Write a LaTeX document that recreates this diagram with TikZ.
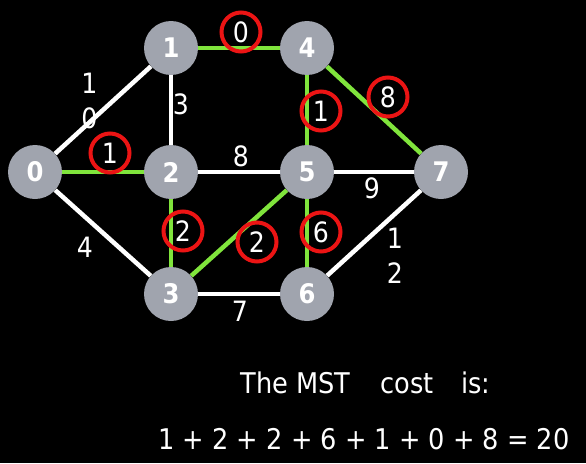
\documentclass[tikz,border=0pt]{standalone}
\usepackage{fontspec}
\setmainfont{DejaVu Sans Condensed}
\definecolor{mstgreen}{RGB}{128,228,60}
\definecolor{nodegray}{RGB}{160,164,174}
\definecolor{ringred}{RGB}{236,20,20}
\begin{document}
\begin{tikzpicture}[x=1pt,y=-1pt,
  vtx/.style={circle,fill=nodegray,minimum size=54pt,inner sep=0pt,text=white,font=\fontsize{27}{27}\selectfont\bfseries},
  wedge/.style={draw=white,line width=4.5pt},
  gedge/.style={draw=mstgreen,line width=4.5pt},
  wlabel/.style={text=white,inner sep=0pt,font=\fontsize{28}{35}\selectfont,align=center},
  ring/.style={circle,draw=ringred,line width=4pt,minimum size=39pt,inner sep=0pt,text=white,font=\fontsize{28}{28}\selectfont},
  caption/.style={text=white,inner sep=0pt,anchor=base,font=\fontsize{28.5}{28.5}\selectfont}]
\fill[black] (0,0) rectangle (586,463);
\useasboundingbox (0,0) rectangle (586,463);
% vertices
\node[vtx] (n0) at (35,172) {0};
\node[vtx] (n1) at (171,48) {1};
\node[vtx] (n2) at (171,172) {2};
\node[vtx] (n3) at (171,294) {3};
\node[vtx] (n4) at (307,48) {4};
\node[vtx] (n5) at (307,172) {5};
\node[vtx] (n6) at (307,294) {6};
\node[vtx] (n7) at (441,172) {7};
% edges
\draw[wedge] (n0) -- (n1);
\draw[gedge] (n0) -- (n2);
\draw[wedge] (n0) -- (n3);
\draw[gedge] (n1) -- (n4);
\draw[wedge] (n1) -- (n2);
\draw[wedge] (n2) -- (n5);
\draw[gedge] (n2) -- (n3);
\draw[gedge] (n3) -- (n5);
\draw[gedge] (n4) -- (n5);
\draw[gedge] (n4) -- (n7);
\draw[wedge] (n5) -- (n7);
\draw[gedge] (n5) -- (n6);
\draw[wedge] (n3) -- (n6);
\draw[wedge] (n6) -- (n7);
% plain weights
\node[wlabel] (w01) at (89.5,100.5) {1\\0};
\node[wlabel] (w12) at (181,104) {3};
\node[wlabel] (w25) at (241,156) {8};
\node[wlabel] (w57) at (372,188) {9};
\node[wlabel] (w36) at (240,311) {7};
\node[wlabel] (w03) at (85,247) {4};
\node[wlabel] (w67) at (395,256) {1\\2};
% circled (MST) weights
\node[ring] (r14) at (241,32) {0};
\node[ring] (r02) at (110,153) {1};
\node[ring] (r45) at (321,111) {1};
\node[ring] (r47) at (388,97) {8};
\node[ring] (r23) at (183,231) {2};
\node[ring] (r35) at (257,242) {2};
\node[ring] (r56) at (321,232) {6};
% caption
\node[caption] (cap1) at (365.5,393) {The MST\hspace{30pt}cost\hspace{28pt}is:};
\node[caption] (cap2) at (364,449) {1 + 2 + 2 + 6 + 1 + 0 + 8 = 20};
\end{tikzpicture}
\end{document}
